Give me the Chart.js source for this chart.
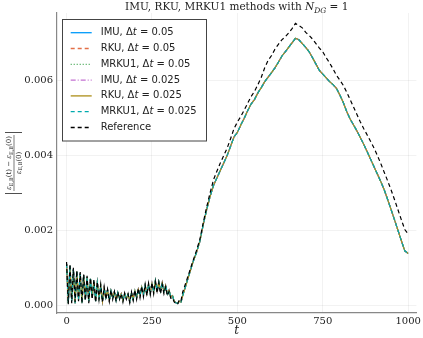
<!DOCTYPE html>
<html><head><meta charset="utf-8">
<script src="https://cdn.jsdelivr.net/npm/chart.js@4.4.1/dist/chart.umd.min.js"></script>
<style>html,body{margin:0;padding:0;background:#fff;overflow:hidden}#wrap{width:423px;height:338px;position:relative}</style>
</head><body><div id="wrap"><canvas id="c" width="423" height="338"></canvas></div>
<script>
// time samples
const timeValues = [0,5,10,15,20,25,30,35,40,45,50,55,60,65,70,75,80,85,90,95,
100,105,110,115,120,125,130,135,140,145,150,155,160,165,170,175,180,185,190,195,
200,205,210,215,220,225,230,235,240,245,250,255,260,265,270,275,280,285,290,295,
300,305,310,315,320,325,330,335,340,
350,360,370,380,390,400,410,420,430,440,450,460,470,480,490,500,510,520,530,540,
550,560,570,580,590,600,610,620,630,640,650,660,670,680,690,700,710,720,730,740,
750,760,770,780,790,800,810,820,830,840,850,860,870,880,890,900,910,920,930,940,
950,960,970,980,990,1000];
// relative energy error (x 1e-3), numerical schemes (all six overlap)
const numericalErr = [1.10,0.05,1.05,0.10,0.95,0.05,0.90,0.15,0.85,0.05,0.80,0.15,0.75,0.10,0.70,0.20,0.65,0.10,0.60,0.20,
0.50,0.10,0.45,0.20,0.40,0.12,0.38,0.20,0.35,0.12,0.33,0.18,0.30,0.12,0.30,0.18,0.28,0.10,0.32,0.15,
0.38,0.20,0.42,0.25,0.48,0.28,0.52,0.30,0.55,0.32,0.58,0.35,0.65,0.38,0.62,0.38,0.60,0.36,0.52,0.30,
0.40,0.22,0.25,0.10,0.06,0.04,0.10,0.08,0.25,
0.55,0.85,1.15,1.40,1.70,2.15,2.55,2.90,3.20,3.40,3.60,3.80,4.00,4.25,4.50,4.62,4.82,5.00,5.20,5.38,
5.50,5.68,5.82,5.98,6.10,6.22,6.35,6.50,6.66,6.78,6.90,7.02,7.14,7.10,7.00,6.90,6.78,6.62,6.45,6.28,
6.18,6.08,5.98,5.90,5.80,5.62,5.42,5.18,4.98,4.82,4.66,4.48,4.30,4.10,3.90,3.70,3.50,3.30,3.08,2.82,
2.55,2.28,2.00,1.72,1.45,1.38];
// reference solution (x 1e-3)
const referenceErr = [1.15,0.02,1.10,0.05,1.00,0.08,0.92,0.10,0.88,0.05,0.82,0.12,0.78,0.05,0.72,0.15,0.68,0.08,0.62,0.15,
0.55,0.08,0.48,0.15,0.42,0.10,0.40,0.15,0.36,0.10,0.35,0.15,0.30,0.08,0.32,0.15,0.30,0.06,0.35,0.12,
0.40,0.15,0.45,0.20,0.50,0.22,0.55,0.25,0.58,0.28,0.60,0.30,0.62,0.32,0.60,0.30,0.55,0.30,0.48,0.25,
0.36,0.18,0.20,0.08,0.04,0.02,0.15,0.12,0.35,
0.62,0.90,1.18,1.45,1.75,2.20,2.62,3.00,3.35,3.58,3.80,4.00,4.20,4.45,4.72,4.90,5.05,5.22,5.40,5.58,
5.72,5.90,6.10,6.35,6.55,6.68,6.85,6.98,7.10,7.18,7.28,7.40,7.54,7.48,7.42,7.30,7.22,7.12,7.00,6.88,
6.78,6.62,6.48,6.32,6.15,6.02,5.88,5.70,5.50,5.30,5.10,4.90,4.72,4.55,4.38,4.20,4.00,3.78,3.55,3.32,
3.08,2.82,2.55,2.28,2.02,1.90];
const SCALE = 1e-3;
const xTickValues = [0,250,500,750,1000];
const yTickValues = [0,0.002,0.004,0.006];
const methodNames = ['IMU','RKU','MRKU1','IMU','RKU','MRKU1','Reference'];
const stepSizes = ['0.05','0.05','0.05','0.025','0.025','0.025',null];
const seriesColors = ['#009AFA','#E36F47','#3EA44E','#C371D2','#AC8E18','#00AAAE','#000000'];
const seriesDashes = [[],[4,3],[1,2],[5,2,1,2],[],[4,3],[4,3]];
const seriesData = [numericalErr,numericalErr,numericalErr,numericalErr,numericalErr,numericalErr,referenceErr];

const datasets = seriesData.map((arr,i)=>({
  label: methodNames[i],
  data: arr.map((v,k)=>({x:timeValues[k], y:v*SCALE})),
  borderColor: seriesColors[i],
  borderDash: seriesDashes[i],
  borderWidth: 1.2,
  pointRadius: 0,
  fill: false,
  tension: 0,
  order: 6-i
}));

const SERIF = '"DejaVu Serif", serif';
const SANS = '"DejaVu Sans", sans-serif';

function drawRuns(ctx, runs, x, y, align){
  let w = 0;
  runs.forEach(r=>{ctx.font=r.font; r.w=ctx.measureText(r.t).width; w+=r.w;});
  let cx = align==='center' ? x - w/2 : x;
  runs.forEach(r=>{ctx.font=r.font; ctx.fillText(r.t, cx, y+(r.dy||0)); cx+=r.w;});
  return w;
}

const decor = {
  id:'decor',
  afterDraw(chart){
    const ctx = chart.ctx; const ca = chart.chartArea;
    ctx.save();
    ctx.fillStyle = '#222'; ctx.textBaseline='alphabetic';
    // title
    drawRuns(ctx, [
      {t:'IMU, RKU, MRKU1 methods with ', font:'10.5px '+SERIF},
      {t:'N', font:'italic 10.5px '+SERIF},
      {t:'DG', font:'italic 7.5px '+SERIF, dy:2.5},
      {t:' = 1', font:'10.5px '+SERIF}
    ], (ca.left+ca.right)/2, 10, 'center');
    // x label
    ctx.font = 'italic 12px '+SERIF; ctx.textAlign='center';
    ctx.fillText('t', (ca.left+ca.right)/2, 334);
    ctx.textAlign='left';
    // y label (rotated fraction)
    ctx.save();
    ctx.translate(13.5, (ca.top+ca.bottom)/2);
    ctx.rotate(-Math.PI/2);
    const f = '7px '+SERIF, fi='italic 7px '+SERIF, fs='5px '+SERIF;
    drawRuns(ctx, [
      {t:'ε',font:fi},{t:'E,B',font:fs,dy:1.5},{t:'(t) − ',font:f},
      {t:'ε',font:fi},{t:'E,B',font:fs,dy:1.5},{t:'(0)',font:f}
    ], 0, -2.5, 'center');
    drawRuns(ctx, [
      {t:'ε',font:fi},{t:'E,B',font:fs,dy:1.5},{t:'(0)',font:f}
    ], 0, 7, 'center');
    ctx.strokeStyle='#222'; ctx.lineWidth=0.6;
    ctx.beginPath(); ctx.moveTo(-28,0.5); ctx.lineTo(28,0.5); ctx.stroke();
    ctx.lineWidth=0.8;
    ctx.beginPath(); ctx.moveTo(-30.5,-8.5); ctx.lineTo(-30.5,8.5);
    ctx.moveTo(30.5,-8.5); ctx.lineTo(30.5,8.5); ctx.stroke();
    ctx.restore();
    // legend
    const lx=62.5, ly=19.5, lw=144, lh=121.5;
    ctx.fillStyle='#fff'; ctx.fillRect(lx,ly,lw,lh);
    ctx.strokeStyle='#444'; ctx.lineWidth=1; ctx.setLineDash([]);
    ctx.strokeRect(lx,ly,lw,lh);
    for(let i=0;i<methodNames.length;i++){
      const yy = 32.7 + i*15.8;
      ctx.strokeStyle = seriesColors[i]; ctx.lineWidth=1.3;
      ctx.setLineDash(seriesDashes[i]);
      ctx.beginPath(); ctx.moveTo(70.7,yy); ctx.lineTo(91.7,yy); ctx.stroke();
      ctx.setLineDash([]);
      ctx.fillStyle='#222'; ctx.textBaseline='middle';
      if(stepSizes[i]){
        drawRuns(ctx, [
          {t:methodNames[i]+', Δ', font:'10px '+SANS},
          {t:'t', font:'italic 10px '+SANS},
          {t:' = '+stepSizes[i], font:'10px '+SANS}
        ], 100.7, yy, 'left');
      } else {
        drawRuns(ctx, [{t:methodNames[i], font:'10px '+SANS}], 100.7, yy, 'left');
      }
    }
    ctx.restore();
  }
};

new Chart(document.getElementById('c'), {
  type:'line',
  data:{datasets},
  options:{
    responsive:false, animation:false, devicePixelRatio:1,
    layout:{padding:{top:13,right:3,left:0,bottom:0}},
    plugins:{legend:{display:false}, tooltip:{enabled:false}, title:{display:false}},
    scales:{
      x:{type:'linear', min:-28, max:1024,
        afterBuildTicks:s=>{s.ticks=xTickValues.map(v=>({value:v}));},
        afterFit:s=>{s.height=25;},
        ticks:{font:{family:'DejaVu Serif', size:10}, color:'#222', padding:2, maxRotation:0, callback:v=>String(v)},
        grid:{color:'rgba(0,0,0,0.05)', drawTicks:false},
        border:{color:'#888', width:1.2}
      },
      y:{type:'linear', min:-0.000214, max:0.007818,
        afterBuildTicks:s=>{s.ticks=yTickValues.map(v=>({value:v}));},
        afterFit:s=>{s.width=57;},
        ticks:{font:{family:'DejaVu Serif', size:10}, color:'#222', padding:4, callback:v=>Number(v).toFixed(3)},
        grid:{color:'rgba(0,0,0,0.05)', drawTicks:false},
        border:{color:'#888', width:1.2}
      }
    }
  },
  plugins:[decor]
});
</script></body></html>
